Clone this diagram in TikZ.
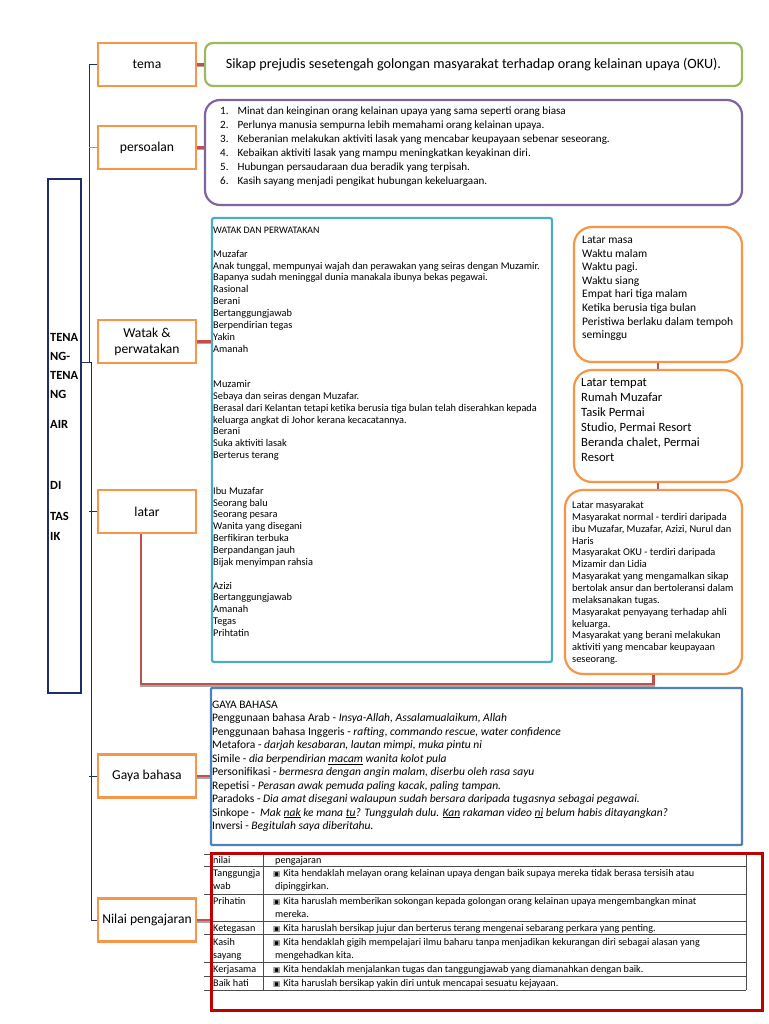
\documentclass[tikz,border=0pt]{standalone}
\usepackage{fontspec}
\setmainfont{Carlito}
\newfontfamily\dvs{DejaVu Sans}
\usetikzlibrary{calc}
\definecolor{orng}{HTML}{F79646}
\definecolor{grn}{HTML}{9BBB59}
\definecolor{purp}{HTML}{8064A2}
\definecolor{teal2}{HTML}{4BACC6}
\definecolor{blu}{HTML}{4F81BD}
\definecolor{dred}{HTML}{C00000}
\definecolor{cred}{HTML}{C0504D}
\definecolor{navy}{HTML}{1F2F66}
\newcommand\fs[2]{\fontsize{#1}{#2}\selectfont}
\newcommand\Ln[1]{\hbox{#1}}
\newcommand\bul{{\dvs\fs{7.5}{9}▣}\hspace{3pt}}
\begin{document}
\begin{tikzpicture}[x=1pt,y=-1pt,
  lbl/.style={draw=orng, line width=2.5, minimum width=98, minimum height=43, inner sep=0, align=center, font=\fs{13.6}{16}},
  cbox/.style={line width=2.2, inner sep=0},
  txt/.style={inner sep=0, anchor=base west},
  conn/.style={draw=cred, line width=2.2, preaction={draw=black!35, line width=2.2, transform canvas={yshift=-1.6pt}}},
  brk/.style={draw=navy, line width=0.9},
  tline/.style={draw=black!70, line width=1}]
\useasboundingbox (0,0) rectangle (768,1024);
\fill[white] (0,0) rectangle (768,1024);

% title box
\node[draw=navy, line width=2.3, minimum width=33, minimum height=514, inner sep=0] (title) at (64.5,436) {};
\foreach \t/\yy [count=\i] in {TENA/341, NG-/360, TENA/379, NG/398, AIR/428, DI/489, TAS/520, IK/540}
  \node[txt, font=\fs{12.5}{14}\bfseries] (tt\i) at (50,\yy) {\t};

% label boxes
\node[lbl] (tema) at (147,64.5) {tema};
\node[lbl] (pers) at (147,147.5) {persoalan};
\node[lbl] (watak) at (147,341.5) {Watak \&\\perwatakan};
\node[lbl] (latar) at (147,511.5) {latar};
\node[lbl] (gaya) at (147,776) {Gaya bahasa};
\node[lbl] (nilai) at (147,920) {Nilai pengajaran};

% bracket
\coordinate (bt) at (89,362);
\draw[brk] (tema.west) -| (bt) -- (title.east |- bt);
\draw[brk] (title.east |- bt) -- ++(9,0) |- (nilai.west);
\draw[brk] (latar.west) -- ++(-8,0);
\draw[brk] (gaya.west) -- ++(-8,0);
\draw[draw=black!40, line width=1.2] (pers.west) -- ++(-8,0);

% content boxes
\node[cbox, draw=grn, rounded corners=8, minimum width=537, minimum height=43, font=\fs{14.2}{16}] (green) at (473.5,64.5) {Sikap prejudis sesetengah golongan masyarakat terhadap orang kelainan upaya (OKU).};
\node[cbox, draw=purp, rounded corners=15, minimum width=537, minimum height=105] (purple) at (473.5,152.5) {};
\node[cbox, draw=teal2, rounded corners=2, minimum width=340, minimum height=444] (tealb) at (382,440) {};
\node[cbox, draw=orng, rounded corners=18, minimum width=168, minimum height=135] (masa) at (658,294.5) {};
\node[cbox, draw=orng, rounded corners=18, minimum width=168, minimum height=112] (tempat) at (658,426) {};
\node[cbox, draw=orng, rounded corners=18, minimum width=177, minimum height=184] (masy) at (653.5,582) {};
\node[cbox, draw=blu, rounded corners=1, minimum width=531, minimum height=157] (blue) at (476.5,766.5) {};

% connectors
\draw[conn] (tema.east) -- (green.west);
\draw[conn] (pers.east) -- (pers.east -| purple.west);
\draw[conn] (watak.east) -- (watak.east -| tealb.west);
\draw[conn] (gaya.east) -- (gaya.east -| blue.west);
\draw[conn] (masa.south) -- (tempat.north);
\draw[conn] (tempat.south) -- (tempat.south |- masy.north);
\coordinate (lc) at (141,684);
\draw[conn] (latar.south -| lc) -- (lc) -- (masy.south |- lc) -- (masy.south);

% persoalan list
\node[txt] (plist) at (220,115) {\vtop{\fs{11.1}{13.9}%
\Ln{1.\hspace{9pt}Minat dan keinginan orang kelainan upaya yang sama seperti orang biasa}
\Ln{2.\hspace{9pt}Perlunya manusia sempurna lebih memahami orang kelainan upaya.}
\Ln{3.\hspace{9pt}Keberanian melakukan aktiviti lasak yang mencabar keupayaan sebenar seseorang.}
\Ln{4.\hspace{9pt}Kebaikan aktiviti lasak yang mampu meningkatkan keyakinan diri.}
\Ln{5.\hspace{9pt}Hubungan persaudaraan dua beradik yang terpisah.}
\Ln{6.\hspace{9pt}Kasih sayang menjadi pengikat hubungan kekeluargaan.}}};

% watak text
\node[txt] (wtxt) at (213,233.5) {\vtop{\fs{10.35}{11.85}%
\Ln{\fs{9.9}{10}WATAK DAN PERWATAKAN}\Ln{}
\Ln{Muzafar}
\Ln{Anak tunggal, mempunyai wajah dan perawakan yang seiras dengan Muzamir.}
\Ln{Bapanya sudah meninggal dunia manakala ibunya bekas pegawai.}
\Ln{Rasional}\Ln{Berani}\Ln{Bertanggungjawab}\Ln{Berpendirian tegas}\Ln{Yakin}\Ln{Amanah}
\Ln{}\Ln{}
\Ln{Muzamir}
\Ln{Sebaya dan seiras dengan Muzafar.}
\Ln{Berasal dari Kelantan tetapi ketika berusia tiga bulan telah diserahkan kepada}
\Ln{keluarga angkat di Johor kerana kecacatannya.}
\Ln{Berani}\Ln{Suka aktiviti lasak}\Ln{Berterus terang}
\Ln{}\Ln{}
\Ln{Ibu Muzafar}\Ln{Seorang balu}\Ln{Seorang pesara}\Ln{Wanita yang disegani}\Ln{Berfikiran terbuka}\Ln{Berpandangan jauh}\Ln{Bijak menyimpan rahsia}
\Ln{}
\Ln{Azizi}\Ln{Bertanggungjawab}\Ln{Amanah}\Ln{Tegas}\Ln{Prihtatin}}};

% latar texts
\node[txt] (masatxt) at (582,243.5) {\vtop{\fs{11.5}{13.6}%
\Ln{Latar masa}\Ln{Waktu malam}\Ln{Waktu pagi.}\Ln{Waktu siang}\Ln{Empat hari tiga malam}\Ln{Ketika berusia tiga bulan}\Ln{Peristiwa berlaku dalam tempoh}\Ln{seminggu}}};
\node[txt] (tempattxt) at (581,386) {\vtop{\fs{12.6}{15}%
\Ln{Latar tempat}\Ln{Rumah Muzafar}\Ln{Tasik Permai}\Ln{Studio, Permai Resort}\Ln{Beranda chalet, Permai}\Ln{Resort}}};
\node[txt] (masytxt) at (572,508.5) {\vtop{\fs{10.4}{11.85}%
\Ln{Latar masyarakat}
\Ln{Masyarakat normal - terdiri daripada}
\Ln{ibu Muzafar, Muzafar, Azizi, Nurul dan}
\Ln{Haris}
\Ln{Masyarakat OKU - terdiri daripada}
\Ln{Mizamir dan Lidia}
\Ln{Masyarakat yang mengamalkan sikap}
\Ln{bertolak ansur dan bertoleransi dalam}
\Ln{melaksanakan tugas.}
\Ln{Masyarakat penyayang terhadap ahli}
\Ln{keluarga.}
\Ln{Masyarakat yang berani melakukan}
\Ln{aktiviti yang mencabar keupayaan}
\Ln{seseorang.}}};

% gaya bahasa text
\node[txt] (gtxt) at (212,708.5) {\vtop{\fs{11.5}{13.45}%
\Ln{GAYA BAHASA}
\Ln{Penggunaan bahasa Arab - \textit{Insya-Allah, Assalamualaikum, Allah}}
\Ln{Penggunaan bahasa Inggeris - \textit{rafting, commando rescue, water confidence}}
\Ln{Metafora - \textit{darjah kesabaran, lautan mimpi, muka pintu ni}}
\Ln{Simile - \textit{dia berpendirian \underline{macam} wanita kolot pula}}
\Ln{Personifikasi - \textit{bermesra dengan angin malam, diserbu oleh rasa sayu}}
\Ln{Repetisi - \textit{Perasan awak pemuda paling kacak, paling tampan.}}
\Ln{Paradoks - \textit{Dia amat disegani walaupun sudah bersara daripada tugasnya sebagai pegawai.}}
\Ln{Sinkope -\ \ \textit{Mak \underline{nak} ke mana \underline{tu}? Tunggulah dulu. \underline{Kan} rakaman video \underline{ni} belum habis ditayangkan?}}
\Ln{Inversi - \textit{Begitulah saya diberitahu.}}}};

% table
\foreach \yy in {854,866,894,921,934,962,976,990}
  \draw[tline] (204,\yy) -- (746,\yy);
\draw[tline] (263,854) -- (263,990);
\draw[tline] (746,854) -- (746,990);
\begin{scope}[every node/.style={txt, font=\fs{10.2}{12}}]
\node (h1) at (213,863) {nilai};
\node (h2) at (275,863) {pengajaran};
\node (c1) at (213,876) {Tanggungja};
\node (c1b) at (213,889) {wab};
\node (d1) at (273,876) {\bul Kita hendaklah melayan orang kelainan upaya dengan baik supaya mereka tidak berasa tersisih atau};
\node (d1b) at (275,889) {dipinggirkan.};
\node (c2) at (213,904) {Prihatin};
\node (d2) at (273,904) {\bul Kita haruslah memberikan sokongan kepada golongan orang kelainan upaya mengembangkan minat};
\node (d2b) at (275,917) {mereka.};
\node (c3) at (213,931) {Ketegasan};
\node (d3) at (273,931) {\bul Kita haruslah bersikap jujur dan berterus terang mengenai sebarang perkara yang penting.};
\node (c4) at (213,945) {Kasih};
\node (c4b) at (213,958) {sayang};
\node (d4) at (273,945) {\bul Kita hendaklah gigih mempelajari ilmu baharu tanpa menjadikan kekurangan diri sebagai alasan yang};
\node (d4b) at (275,958) {mengehadkan kita.};
\node (c5) at (213,972) {Kerjasama};
\node (d5) at (273,972) {\bul Kita hendaklah menjalankan tugas dan tanggungjawab yang diamanahkan dengan baik.};
\node (c6) at (213,986) {Baik hati};
\node (d6) at (273,986) {\bul Kita haruslah bersikap yakin diri untuk mencapai sesuatu kejayaan.};
\end{scope}
\node[draw=dred, line width=3, minimum width=551, minimum height=157, inner sep=0] (redb) at (486.5,931.5) {};
\draw[conn] (nilai.east) -- (nilai.east -| redb.west);
\end{tikzpicture}
\end{document}
